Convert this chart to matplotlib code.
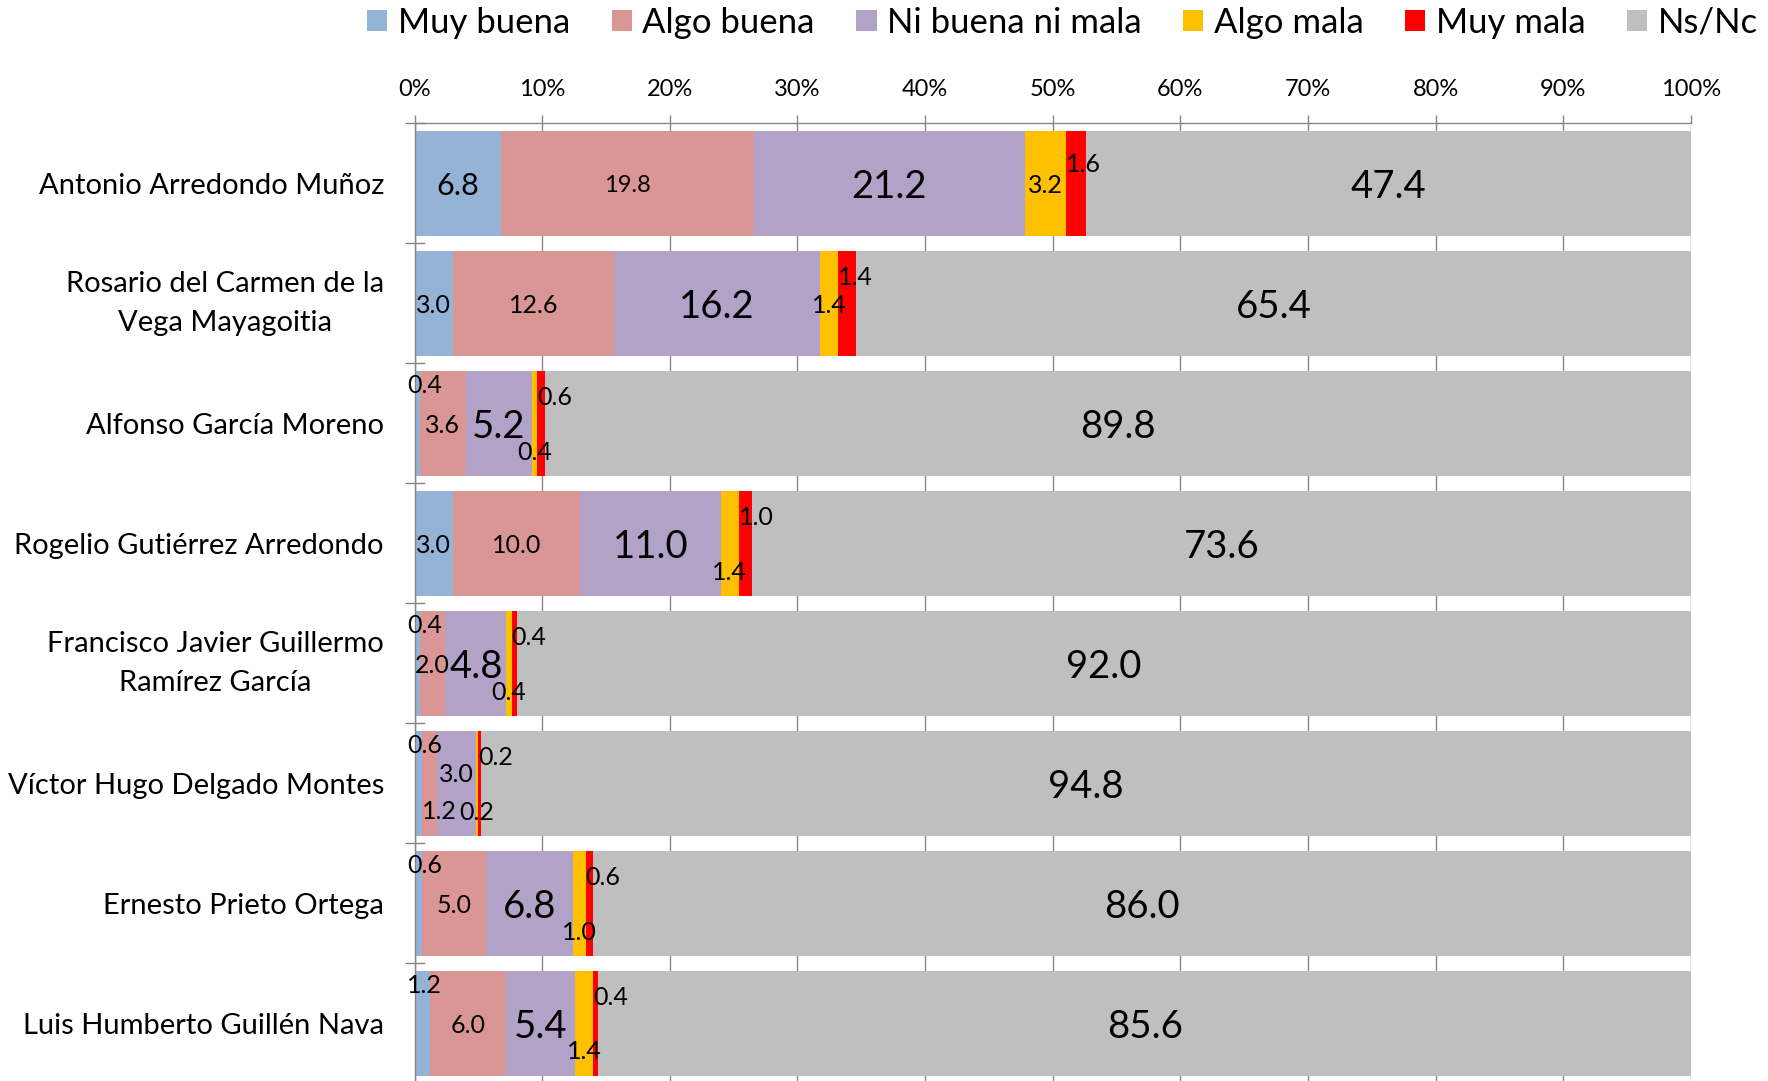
import numpy as np
import matplotlib
matplotlib.use("Agg")
import matplotlib.pyplot as plt
from matplotlib.patches import Patch

plt.rcParams['font.family'] = ['Lato', 'DejaVu Sans']

# data
candidates = [
    "Antonio Arredondo Muñoz",
    "Rosario del Carmen de la\nVega Mayagoitia",
    "Alfonso García Moreno",
    "Rogelio Gutiérrez Arredondo",
    "Francisco Javier Guillermo\nRamírez García",
    "Víctor Hugo Delgado Montes",
    "Ernesto Prieto Ortega",
    "Luis Humberto Guillén Nava",
]
series_names = ["Muy buena", "Algo buena", "Ni buena ni mala", "Algo mala", "Muy mala", "Ns/Nc"]
muy_buena = [6.8, 3.0, 0.4, 3.0, 0.4, 0.6, 0.6, 1.2]
algo_buena = [19.8, 12.6, 3.6, 10.0, 2.0, 1.2, 5.0, 6.0]
ni_buena = [21.2, 16.2, 5.2, 11.0, 4.8, 3.0, 6.8, 5.4]
algo_mala = [3.2, 1.4, 0.4, 1.4, 0.4, 0.2, 1.0, 1.4]
muy_mala = [1.6, 1.4, 0.6, 1.0, 0.4, 0.2, 0.6, 0.4]
ns_nc = [47.4, 65.4, 89.8, 73.6, 92.0, 94.8, 86.0, 85.6]
x_ticks = [0, 10, 20, 30, 40, 50, 60, 70, 80, 90, 100]

colors = ["#95B3D7", "#D99694", "#B3A2C7", "#FFC000", "#FF0000", "#BFBFBF"]
grid_col = "#868686"

values = np.array([muy_buena, algo_buena, ni_buena, algo_mala, muy_mala, ns_nc])
lefts = np.vstack([np.zeros(len(candidates)), np.cumsum(values, axis=0)[:-1]])
y = np.arange(len(candidates))

fig = plt.figure(figsize=(17.68, 10.81), dpi=100)
ax = fig.add_axes([0.23445, -0.00213, 0.722, 0.88807])

for k in range(len(series_names)):
    ax.barh(y, values[k], left=lefts[k], height=0.873, color=colors[k],
            linewidth=0, label=series_names[k], zorder=2)

# data labels (small segments get nudged above / below like the original)
mala_dy = [0, 0, 0.23, 0.23, 0.23, 0.23, 0.23, 0.22]
small, big = 18, 27.5
for i in range(len(candidates)):
    for k in range(len(series_names)):
        v = values[k, i]
        x0 = lefts[k, i]
        xc = x0 + v / 2
        txt = f"{v:.1f}"
        ha, yy, fs = "center", y[i], small
        if k == 0:
            if v >= 5:
                fs = 22
            elif v < 2:
                xc, ha, yy = -0.6, "left", y[i] - 0.33
        elif k == 1:
            if v >= 15:
                fs = 17
            if v < 1.5:
                xc, ha, yy = x0, "left", y[i] + 0.22
        elif k == 2:
            if v >= 4:
                fs = big
            else:
                yy = y[i] - 0.09
        elif k == 3:
            yy = y[i] + mala_dy[i]
        elif k == 4:
            xc, ha = x0, "left"
            yy = y[i] - (0.17 if i == 0 else 0.23)
        else:
            fs = big
        ax.text(xc, yy, txt, ha=ha, va="center_baseline", fontsize=fs,
                color="black", zorder=3)

ax.set_xlim(0, 100)
ax.set_ylim(len(candidates) - 0.5, -0.5)

ax.xaxis.tick_top()
ax.set_xticks(x_ticks)
ax.set_xticklabels([f"{t}%" for t in x_ticks], fontsize=17)
ax.tick_params(axis="x", direction="out", length=5.8, width=1, color=grid_col, pad=11)
ax.grid(axis="x", color=grid_col, linewidth=1, zorder=0)
ax.set_axisbelow(True)

ax.set_yticks(y)
ax.set_yticklabels(candidates, fontsize=21, multialignment="center", linespacing=1.6)
for lab in ax.get_yticklabels():
    if "\n" in lab.get_text():
        lab.set_va("center")
ax.tick_params(axis="y", length=0, pad=22)
ax.set_yticks(np.arange(-0.5, len(candidates), 1), minor=True)
ax.tick_params(axis="y", which="minor", direction="inout", length=14.4,
               width=1, color=grid_col)

for side in ["right", "bottom"]:
    ax.spines[side].set_visible(False)
for side in ["top", "left"]:
    ax.spines[side].set_color(grid_col)
    ax.spines[side].set_linewidth(1)

handles = [Patch(facecolor=c, edgecolor="none") for c in colors]
fig.legend(handles, series_names, loc="center", bbox_to_anchor=(0.601, 0.979),
           ncol=6, frameon=False, fontsize=25, handlelength=0.58, handleheight=0.58,
           handletextpad=0.3, columnspacing=1.2, borderpad=0, borderaxespad=0)

fig.savefig("out.png", dpi=100)
